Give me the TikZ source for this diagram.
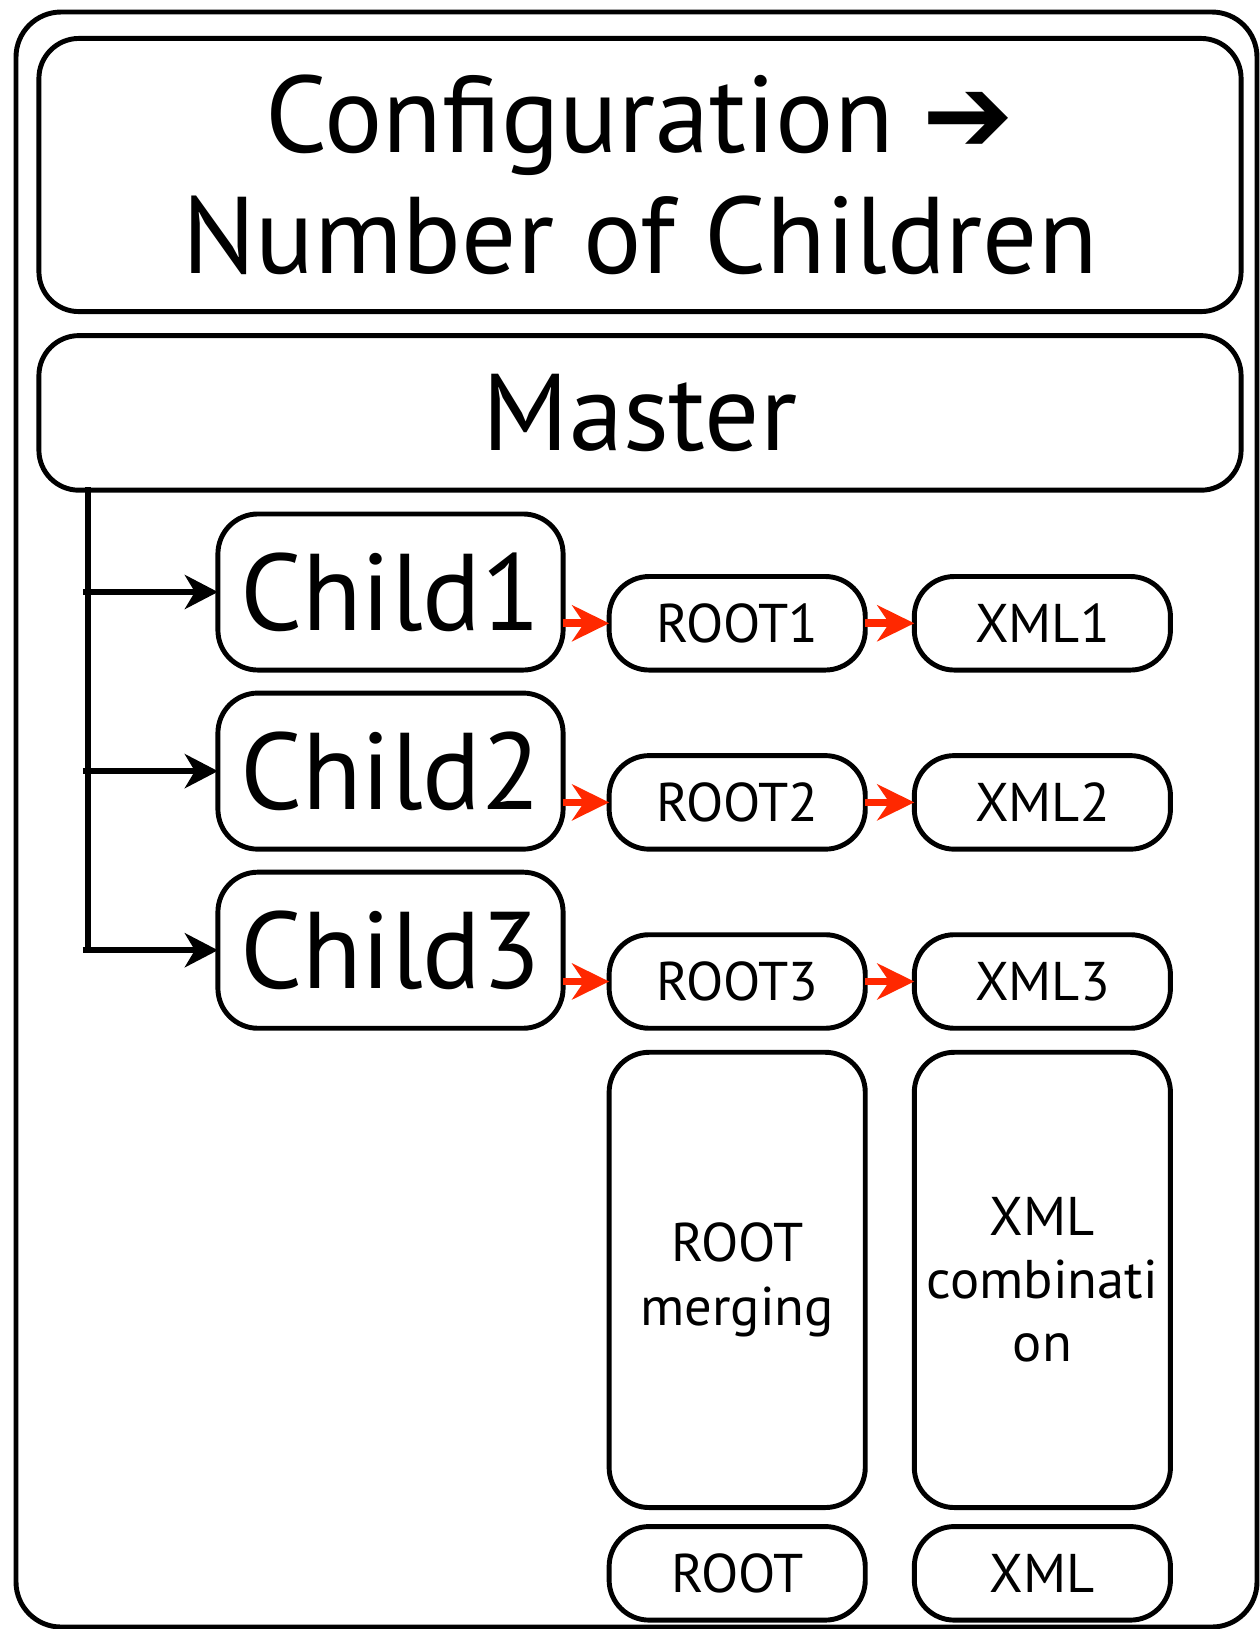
\documentclass[tikz,border=0pt]{standalone}
\usepackage{fontspec}
\setmainfont{PT Sans}
\newfontfamily\symfont{DejaVu Sans}
\usepackage{tikz}
\usetikzlibrary{positioning,arrows.meta}

\definecolor{arrowred}{RGB}{255,40,0}

\begin{document}
\begin{tikzpicture}[x=0.01cm, y=-0.01cm,
		box/.style={draw, line width=1.4pt, rounded corners=0.4cm, inner sep=0pt, outer sep=0pt, align=center},
		wide/.style={box, minimum width=12.015cm, font=\fontsize{31}{34.3}\selectfont},
		child/.style={box, minimum width=3.45cm, minimum height=1.56cm, font=\fontsize{31}{34}\selectfont},
		small/.style={box, minimum width=2.56cm, minimum height=0.935cm, font=\fontsize{15.5}{18}\selectfont},
		tall/.style={small, minimum height=4.55cm},
		feed/.style={line width=1.8pt, -{Stealth[length=0.33cm, width=0.34cm, inset=0.1cm]}},
		redarr/.style={arrowred, line width=2.2pt, -{Stealth[length=0.37cm, width=0.36cm, inset=0.12cm]}}]
		\useasboundingbox (0,0) rectangle (1259,1629);
		
		% outer frame
		\draw[line width=1.4pt, rounded corners=0.45cm] (16,12) rectangle (1257,1627);
		
		\node (title)  [wide, minimum height=2.73cm] at (640,175) {Configuration {\symfont ➔}\\Number of Children};
		\node (master) [wide, minimum height=1.545cm, below=0.24cm of title] {Master};
		
		\node (child1) [child] at (390.5,592) {Child1};
		\node (child2) [child, below=0.23cm of child1] {Child2};
		\node (child3) [child, below=0.23cm of child2] {Child3};
		
		\node (root1) [small, right=0.46cm of child1.south east, anchor=south west] {ROOT1};
		\node (root2) [small, right=0.46cm of child2.south east, anchor=south west] {ROOT2};
		\node (root3) [small, right=0.46cm of child3.south east, anchor=south west] {ROOT3};
		
		\node (xml1) [small, right=0.49cm of root1] {XML1};
		\node (xml2) [small, right=0.49cm of root2] {XML2};
		\node (xml3) [small, right=0.49cm of root3] {XML3};
		
		\node (rootmerge) [tall, below=0.24cm of root3] {ROOT\\merging};
		\node (xmlcomb)   [tall, below=0.24cm of xml3]  {XML\\combinati\\on};
		
		\node (root) [small, below=0.19cm of rootmerge] {ROOT};
		\node (xml)  [small, below=0.19cm of xmlcomb]   {XML};
		
		% trunk from the master down to the children
		\coordinate (trunk) at (88,490);
		\draw[line width=1.8pt, line cap=rect] (trunk) -- (child3.west -| trunk);
		\foreach \c in {child1,child2,child3}
			\draw[feed] ([xshift=-0.05cm]\c.west -| trunk) -- (\c.west);
		
		\foreach \i in {1,2,3} {
			\draw[redarr] (child\i.east |- root\i.west) -- (root\i.west);
			\draw[redarr] (root\i) -- (xml\i);
		}
	\end{tikzpicture}
\end{document}
